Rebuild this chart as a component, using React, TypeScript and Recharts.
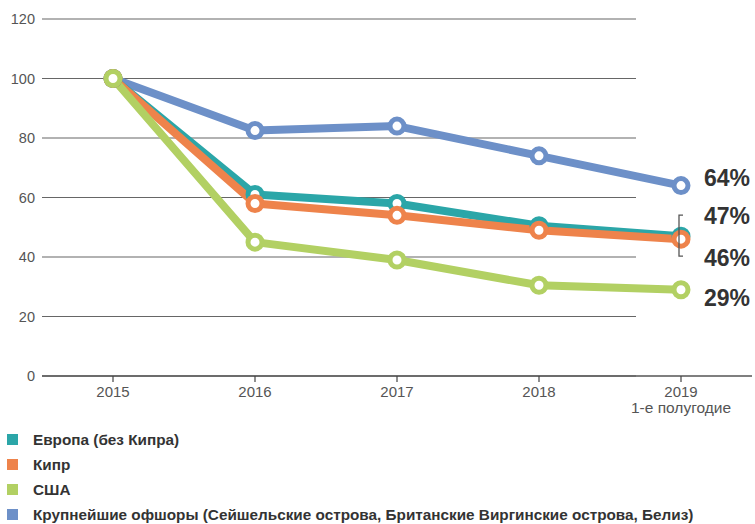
import React from "react";
import { LineChart, Line, XAxis, YAxis, CartesianGrid, LabelList } from "recharts";

// Годы и подписи оси X
const years = ["2015", "2016", "2017", "2018", "2019"];
const lastYearNote = "1-е полугодие";

// Значения рядов (индекс, 2015 = 100)
const europe = [100, 61, 58, 50.5, 47];
const cyprus = [100, 58, 54, 49, 46];
const usa = [100, 45, 39, 30.5, 29];
const offshore = [100, 82.5, 84, 74, 64];

const yTicks = [0, 20, 40, 60, 80, 100, 120];

const data = years.map((year, i) => ({
  year,
  europe: europe[i],
  cyprus: cyprus[i],
  usa: usa[i],
  offshore: offshore[i],
}));

// порядок отрисовки: снизу вверх
const series = [
  { key: "offshore", name: "Крупнейшие офшоры (Сейшельские острова, Британские Виргинские острова, Белиз)", color: "#6d90c8", labelDy: -8, last: offshore[4] },
  { key: "europe", name: "Европа (без Кипра)", color: "#2ba6a8", labelDy: -20, last: europe[4], bracket: true },
  { key: "cyprus", name: "Кипр", color: "#ee834b", labelDy: 19, last: cyprus[4] },
  { key: "usa", name: "США", color: "#b2d063", labelDy: 8, last: usa[4] },
];

const legendOrder = ["europe", "cyprus", "usa", "offshore"];

const axisFont = "'Liberation Sans', Arial, sans-serif";

const Marker = (props: any) => {
  const { cx, cy, stroke } = props;
  if (cx == null || cy == null) return null;
  return <circle cx={cx} cy={cy} r={7} fill="#fff" stroke={stroke} strokeWidth={5} />;
};

const XTick = (props: any) => {
  const { x, y, payload, index } = props;
  return (
    <g>
      <text x={x} y={y} dy="0.71em" textAnchor="middle" fontSize={15} fill="#555" fontFamily={axisFont}>
        {payload.value}
      </text>
      {index === years.length - 1 && (
        <text x={x} y={y + 16} dy="0.71em" textAnchor="middle" fontSize={15.5} fill="#555" fontFamily={axisFont}>
          {lastYearNote}
        </text>
      )}
    </g>
  );
};

const makeLabel = (s: (typeof series)[number]) => (props: any) => {
  const { x, y, index } = props;
  if (index !== years.length - 1) return null;
  return (
    <g>
      {s.bracket && (
        <path
          d={`M${x + 2},${y - 21} H${x - 2} V${y + 20} H${x + 2}`}
          fill="none"
          stroke="#555"
          strokeWidth={1.3}
        />
      )}
      <text
        x={x + 23}
        y={y + s.labelDy}
        dy="0.36em"
        fontSize={23}
        fontWeight="bold"
        fill="#333"
        fontFamily={axisFont}
      >
        {`${Math.round(s.last)}%`}
      </text>
    </g>
  );
};

export default function App() {
  return (
    <div style={{ position: "absolute", left: 0, top: 0, width: 755, height: 524, background: "#fff" }}>
      <LineChart width={755} height={524} data={data} margin={{ top: 19, right: 3, left: 0, bottom: 108 }}>
        <CartesianGrid vertical={false} x={42} width={594} stroke="#666" strokeWidth={1.2} />
        <XAxis
          dataKey="year"
          scale="band"
          height={40}
          tickSize={6}
          tickMargin={4}
          tick={<XTick />}
          axisLine={{ stroke: "#555", strokeWidth: 1.5 }}
          tickLine={{ stroke: "#444", strokeWidth: 1.2 }}
          interval={0}
        />
        <YAxis
          width={42}
          domain={[0, 120]}
          ticks={yTicks}
          tickSize={0}
          tickMargin={7}
          axisLine={false}
          tickLine={false}
          tick={{ fontSize: 14.5, fill: "#555", fontFamily: axisFont }}
        />
        {series.map((s) => (
          <Line
            key={s.key}
            dataKey={s.key}
            type="linear"
            stroke={s.color}
            strokeWidth={8}
            dot={<Marker />}
            activeDot={false}
            isAnimationActive={false}
            strokeLinejoin="round"
          >
            <LabelList dataKey={s.key} content={makeLabel(s)} />
          </Line>
        ))}
      </LineChart>
      <div style={{ position: "absolute", left: 7, top: 427 }}>
        {legendOrder.map((k) => {
          const s = series.find((q) => q.key === k)!;
          return (
            <div key={k} style={{ display: "flex", alignItems: "center", height: 25 }}>
              <span style={{ display: "inline-block", width: 11, height: 11, background: s.color, marginRight: 15 }} />
              <span
                style={{
                  fontFamily: axisFont,
                  fontWeight: "bold",
                  fontSize: 15.3,
                  color: "#333",
                  whiteSpace: "nowrap",
                }}
              >
                {s.name}
              </span>
            </div>
          );
        })}
      </div>
    </div>
  );
}
